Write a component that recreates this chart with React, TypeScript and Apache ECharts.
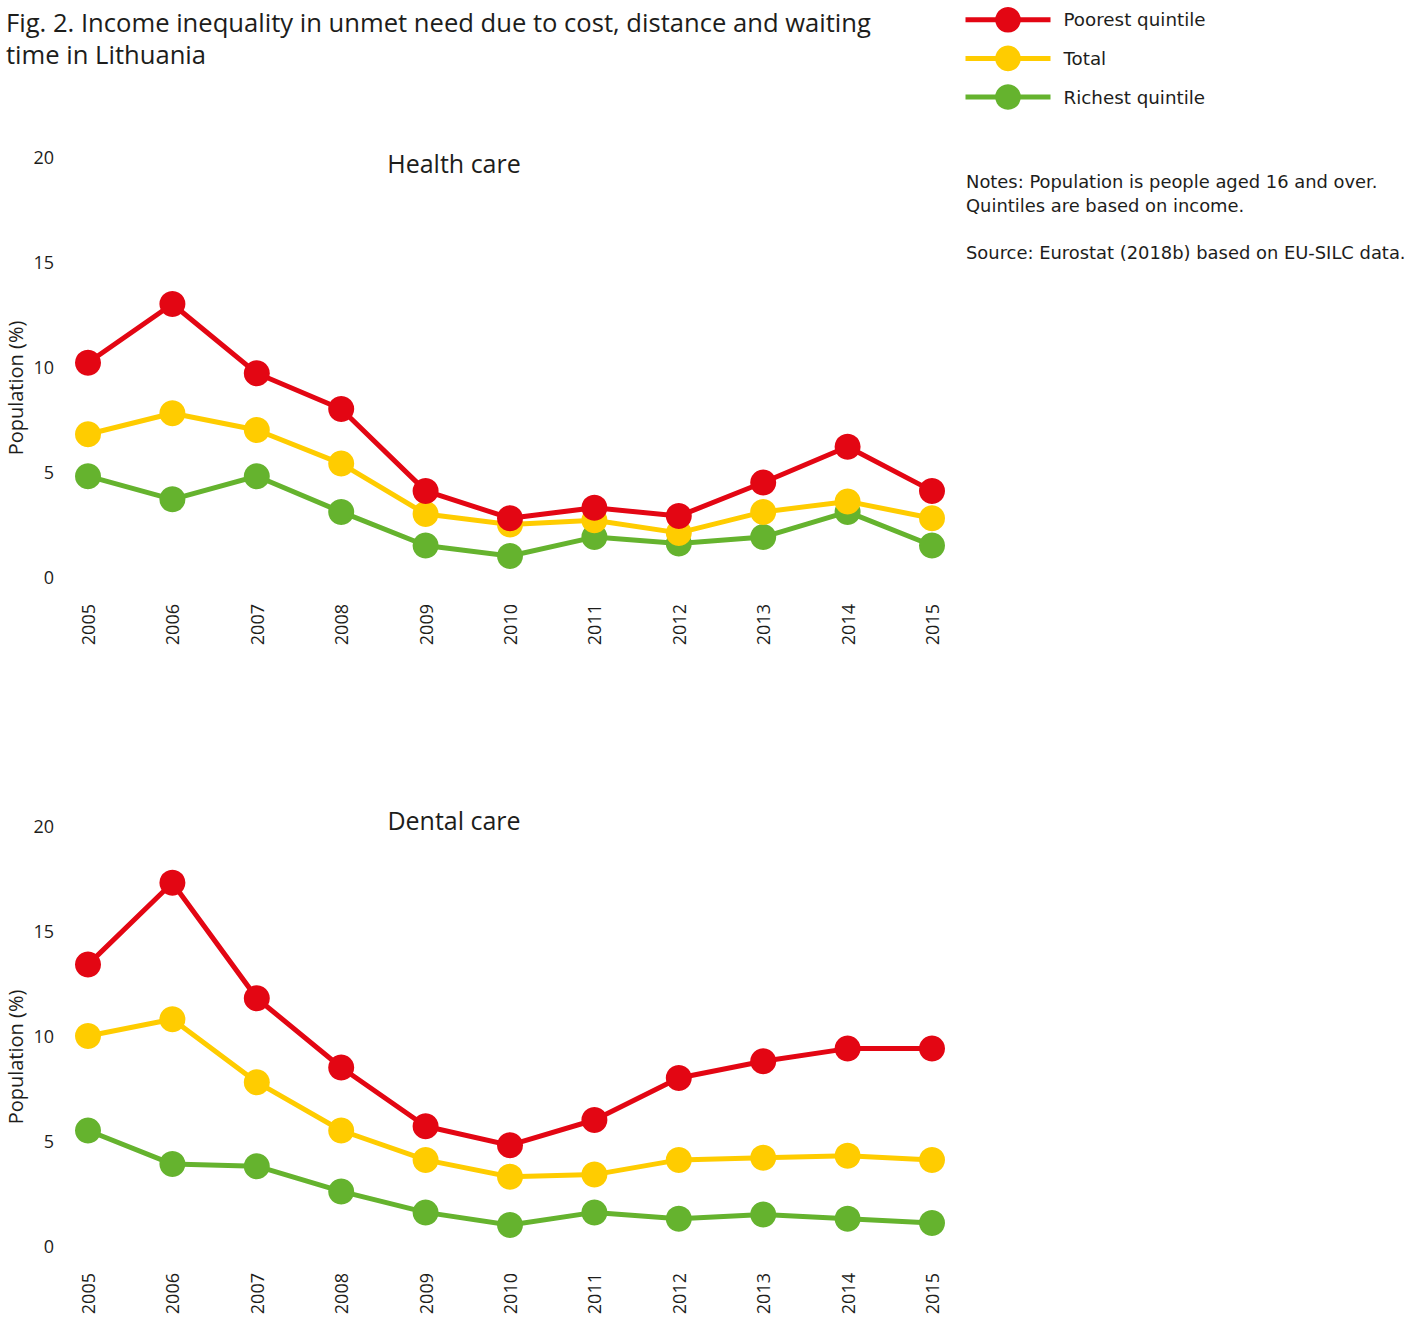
import React, { useEffect, useRef } from "react";
import * as echarts from "echarts";

const years = ["2005", "2006", "2007", "2008", "2009", "2010", "2011", "2012", "2013", "2014", "2015"];
const yTicks = [0, 5, 10, 15, 20];

const healthPoorest = [10.2, 13.0, 9.7, 8.0, 4.1, 2.8, 3.3, 2.9, 4.5, 6.2, 4.1];
const healthTotal = [6.8, 7.8, 7.0, 5.4, 3.0, 2.5, 2.7, 2.1, 3.1, 3.6, 2.8];
const healthRichest = [4.8, 3.7, 4.8, 3.1, 1.5, 1.0, 1.9, 1.6, 1.9, 3.1, 1.5];

const dentalPoorest = [13.4, 17.3, 11.8, 8.5, 5.7, 4.8, 6.0, 8.0, 8.8, 9.4, 9.4];
const dentalTotal = [10.0, 10.8, 7.8, 5.5, 4.1, 3.3, 3.4, 4.1, 4.2, 4.3, 4.1];
const dentalRichest = [5.5, 3.9, 3.8, 2.6, 1.6, 1.0, 1.6, 1.3, 1.5, 1.3, 1.1];

const seriesNames = ["Poorest quintile", "Total", "Richest quintile"];
const colors = ["#e30613", "#ffcc00", "#65b32e"];

const titleLines = [
  "Fig. 2. Income inequality in unmet need due to cost, distance and waiting",
  "time in Lithuania",
];
const panelTitles = ["Health care", "Dental care"];
const notes = [
  "Notes: Population is people aged 16 and over.",
  "Quintiles are based on income.",
  "",
  "Source: Eurostat (2018b) based on EU-SILC data.",
];

const FONT = "'Open Sans', 'Noto Sans', sans-serif";
const FONT2 = "'DejaVu Sans', 'Open Sans', sans-serif";
const TXT = "#1d1d1b";

export default function App() {
  const ref = useRef<HTMLDivElement>(null);
  useEffect(() => {
    if (!ref.current) return;
    const chart = echarts.init(ref.current, null, { renderer: "svg" });
    const gridTops = [157, 826];
    const panels = [
      [healthPoorest, healthTotal, healthRichest],
      [dentalPoorest, dentalTotal, dentalRichest],
    ];
    const series: any[] = [];
    panels.forEach((p, gi) => {
      p.forEach((vals, si) => {
        series.push({
          type: "line",
          name: seriesNames[si],
          xAxisIndex: gi,
          yAxisIndex: gi,
          data: vals,
          symbol: "circle",
          symbolSize: 26,
          z: 10 - si,
          lineStyle: { width: 5, color: colors[si] },
          itemStyle: { color: colors[si] },
          emphasis: { disabled: true },
        });
      });
    });

    const graphic: any[] = [];
    graphic.push({
      type: "text",
      x: 6,
      y: 6,
      style: {
        text: titleLines.join("\n"),
        fontSize: 25.6,
        lineHeight: 32,
        fontFamily: FONT,
        fill: TXT,
        verticalAlign: "top",
      },
    });
    panelTitles.forEach((t, i) => {
      graphic.push({
        type: "text",
        x: 454,
        y: [163, 820][i],
        style: { text: t, fontSize: 25, fontFamily: FONT, fill: TXT, align: "center", verticalAlign: "middle" },
      });
      graphic.push({
        type: "text",
        x: 15,
        y: gridTops[i] + 231,
        rotation: Math.PI / 2,
        style: { text: "Population (%)", fontSize: 20, fontFamily: FONT, fill: TXT, align: "center", verticalAlign: "middle" },
      });
    });
    graphic.push({
      type: "text",
      x: 966,
      y: 170,
      style: {
        text: notes.join("\n"),
        fontSize: 17.9,
        lineHeight: 23.67,
        fontFamily: FONT2,
        fill: TXT,
        verticalAlign: "top",
      },
    });

    chart.setOption({
      animation: false,
      backgroundColor: "#ffffff",
      textStyle: { fontFamily: FONT },
      legend: {
        data: seriesNames,
        orient: "vertical",
        left: 963,
        top: 7,
        padding: 0,
        itemWidth: 85,
        itemHeight: 32,
        itemGap: 13,
        selectedMode: false,
        lineStyle: { width: 5 },
        textStyle: { fontSize: 18.3, color: TXT, fontFamily: FONT2, padding: [0, 0, 0, 8] },
      },
      grid: gridTops.map((t) => ({ left: 88, width: 844, top: t, height: 420 })),
      xAxis: gridTops.map((_, i) => ({
        type: "category",
        gridIndex: i,
        data: years,
        boundaryGap: false,
        axisLine: { show: false },
        axisTick: { show: false },
        axisLabel: { rotate: 90, margin: 27, fontSize: 18, color: TXT, fontFamily: FONT },
      })),
      yAxis: gridTops.map((_, i) => ({
        type: "value",
        gridIndex: i,
        min: yTicks[0],
        max: yTicks[yTicks.length - 1],
        interval: 5,
        splitLine: { show: false },
        axisLine: { show: false },
        axisTick: { show: false },
        axisLabel: { margin: 34, fontSize: 18, color: TXT, fontFamily: FONT },
      })),
      series,
      graphic,
    });
    return () => chart.dispose();
  }, []);
  return <div ref={ref} style={{ position: "absolute", left: 0, top: 0, width: 1417, height: 1321 }} />;
}
